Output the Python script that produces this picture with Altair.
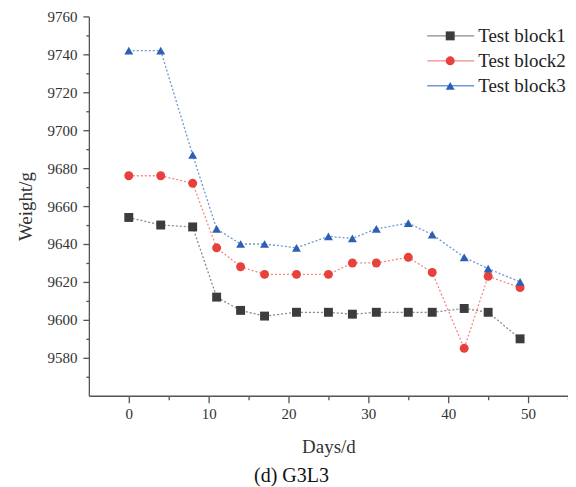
import altair as alt
import pandas as pd

# ---- data ----
days = [0, 4, 8, 11, 14, 17, 21, 25, 28, 31, 35, 38, 42, 45, 49]
block1 = [9654, 9650, 9649, 9612, 9605, 9602, 9604, 9604, 9603, 9604, 9604, 9604, 9606, 9604, 9590]
block2 = [9676, 9676, 9672, 9638, 9628, 9624, 9624, 9624, 9630, 9630, 9633, 9625, 9585, 9623, 9617]
block3 = [9742, 9742, 9687, 9648, 9640, 9640, 9638, 9644, 9643, 9648, 9651, 9645, 9633, 9627, 9620]
series_names = ["Test block1", "Test block2", "Test block3"]

x_ticks = [0, 5, 10, 15, 20, 25, 30, 35, 40, 45, 50, 55]
y_ticks = [9570, 9580, 9590, 9600, 9610, 9620, 9630, 9640, 9650, 9660, 9670,
           9680, 9690, 9700, 9710, 9720, 9730, 9740, 9750, 9760]

marker_colors = ["#3c3c3c", "#e8403a", "#2c60b4"]
line_colors = ["#8a8a8a", "#f08a86", "#6e98d6"]
marker_shapes = ["square", "circle", "triangle-up"]

rows = []
for name, vals in zip(series_names, [block1, block2, block3]):
    for d, v in zip(days, vals):
        rows.append({"day": d, "weight": v, "series": name})
df = pd.DataFrame(rows)

FONT = "Liberation Serif"

x_enc = alt.X(
    "day:Q",
    scale=alt.Scale(domain=[-5, 55], nice=False, zero=False),
    axis=alt.Axis(
        title="Days/d",
        values=x_ticks,
        labelExpr="datum.value % 10 === 0 ? datum.label : ''",
        tickSize={"condition": {"test": "datum.value % 10 === 0", "value": 7}, "value": 4},
        labelPadding=4,
        titlePadding=16,
    ),
)
y_enc = alt.Y(
    "weight:Q",
    scale=alt.Scale(domain=[9560, 9760], nice=False, zero=False),
    axis=alt.Axis(
        title="Weight/g",
        values=y_ticks,
        format="d",
        labelExpr="datum.value % 20 === 0 ? datum.label : ''",
        tickSize={"condition": {"test": "datum.value % 20 === 0", "value": 6}, "value": 3},
        labelPadding=6,
        titlePadding=11,
    ),
)

base = alt.Chart(df)

# legend for the line segments (blank labels; the marker legend carries the text)
lines = base.mark_line(strokeWidth=1.3, strokeDash=[2, 2]).encode(
    x=x_enc,
    y=y_enc,
    color=alt.Color(
        "series:N",
        scale=alt.Scale(domain=series_names, range=line_colors),
        legend=alt.Legend(
            title=None,
            orient="none",
            legendX=353,
            legendY=10,
            symbolType="M-3,0L3,0",
            symbolSize=245,
            symbolStrokeWidth=1.4,
            symbolDash=[1, 0],
            labelExpr="' '",
            labelFont=FONT,
            labelFontSize=19,
            labelColor="rgba(0,0,0,0)",
            labelOffset=5,
            rowPadding=5,
        ),
    ),
    detail="series:N",
)

points = base.mark_point(filled=True, size=80, opacity=1).encode(
    x=x_enc,
    y=y_enc,
    color=alt.Color(
        "series:N",
        scale=alt.Scale(domain=series_names, range=marker_colors),
        legend=alt.Legend(
            title=None,
            orient="none",
            legendX=352.5,
            legendY=10,
            symbolSize=80,
            symbolStrokeWidth=0,
            labelFont=FONT,
            labelFontSize=19,
            labelColor="#222222",
            labelOffset=18.5,
            rowPadding=5,
        ),
    ),
    shape=alt.Shape("series:N", scale=alt.Scale(domain=series_names, range=marker_shapes)),
)

chart = (
    alt.layer(lines, points)
    .resolve_scale(color="independent", shape="independent")
    .properties(
        width=480,
        height=380,
        autosize=alt.AutoSizeParams(type="none"),
        padding={"left": 81, "top": 8, "right": 0, "bottom": 91},
        title=alt.TitleParams(
            "(d) G3L3",
            orient="bottom",
            anchor="middle",
            dx=-37,
            offset=9,
            font=FONT,
            fontSize=20,
            fontWeight="normal",
            color="#111111",
        ),
    )
    .configure_view(stroke=None)
    .configure_axis(
        grid=False,
        domainColor="#555555",
        domainWidth=1.3,
        tickColor="#555555",
        tickWidth=1.3,
        labelFont=FONT,
        labelFontSize=15,
        labelColor="#333333",
        titleFont=FONT,
        titleFontSize=19,
        titleFontWeight="normal",
        titleColor="#333333",
    )
)

chart.save("out.html", embed_options={"renderer": "svg", "actions": False})
